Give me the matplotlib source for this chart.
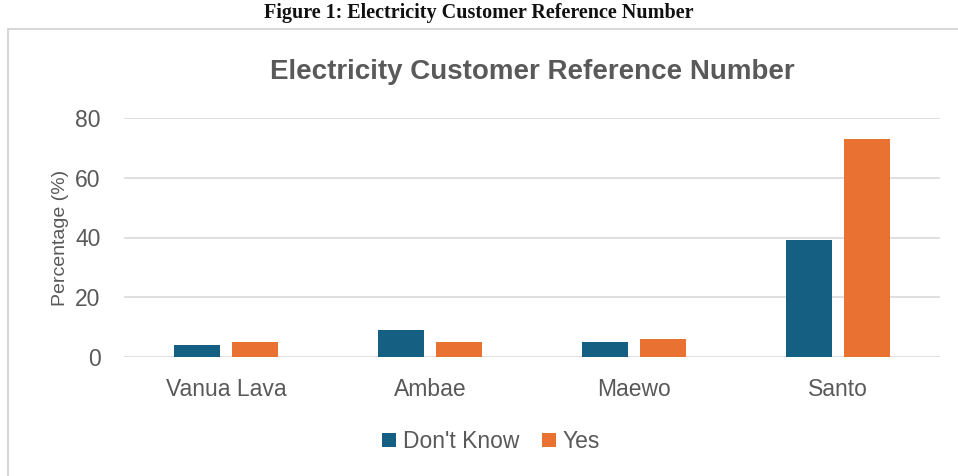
import matplotlib
matplotlib.use("Agg")
import matplotlib.pyplot as plt
import numpy as np
from matplotlib.patches import Rectangle

islands = ["Vanua Lava", "Ambae", "Maewo", "Santo"]
dont_know = [4, 9, 5, 39]
yes = [5, 5, 6, 73]
series = ["Don't Know", "Yes"]
colors = ["#156082", "#E97132"]

plt.rcParams["font.family"] = ["Liberation Sans", "DejaVu Sans"]
grey = "#595959"

fig = plt.figure(figsize=(9.58, 4.76), dpi=100)
fig.text(0.5, 0.993, "Figure 1: Electricity Customer Reference Number", ha="center", va="top",
         family=["Liberation Serif"], fontweight="bold", fontsize=14.5, color="#111111")
# chart frame
fig.patches.append(Rectangle((8 / 958, -0.01), 960 / 958, 1 - 29 / 476 + 0.01, transform=fig.transFigure,
                             fill=False, edgecolor="#d0d0d0", lw=1.2))

ax = fig.add_axes([124 / 958, 1 - 357 / 476, 816 / 958, 239 / 476])
x = np.arange(len(islands))
w = 0.225
ax.bar(x - 0.03 - w / 2, dont_know, w, color=colors[0], label=series[0])
ax.bar(x + 0.03 + w / 2, yes, w, color=colors[1], label=series[1])
ax.set_xlim(-0.5, len(islands) - 0.5)
ax.set_ylim(0, 80)
ax.set_yticks([0, 20, 40, 60, 80])
ax.set_xticks(x, islands)
ax.grid(axis="y", color="#d9d9d9", lw=1.2)
ax.set_axisbelow(True)
for s in ax.spines.values():
    s.set_visible(False)
ax.tick_params(length=0, labelsize=16.5, colors=grey)
ax.tick_params(axis="y", pad=17)
ax.tick_params(axis="x", pad=15)
ax.set_ylabel("Percentage (%)", fontsize=14, color=grey, labelpad=4)
ax.set_title("Electricity Customer Reference Number", fontsize=20, fontweight="bold",
             color=grey, pad=28)
ax.legend(loc="upper center", bbox_to_anchor=(0.45, -0.22), ncol=2, frameon=False, fontsize=16.5,
          labelcolor=grey, handlelength=0.6, handleheight=0.6, handletextpad=0.3, columnspacing=1.0)
fig.savefig("out.png", dpi=100)
